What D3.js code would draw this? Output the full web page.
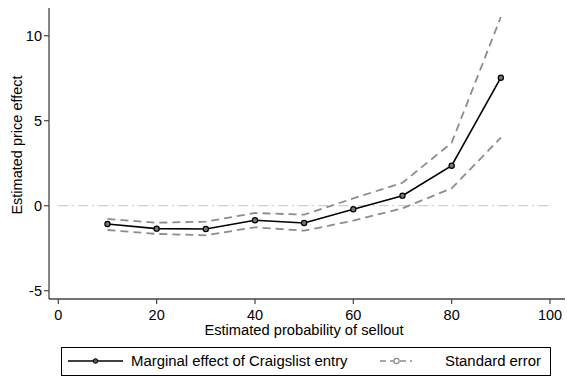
<!DOCTYPE html>
<html>
<head>
<meta charset="UTF-8" />
<style>
    body { margin: 0; background: #fff; }
    text { font-family: "Liberation Sans", Arial, sans-serif; }
</style>
</head>
<body>
<div id="chart"></div>
<script src="https://d3js.org/d3.v7.min.js"></script>
<script>
    // donnees
    const probs = [10, 20, 30, 40, 50, 60, 70, 80, 90];
    const effect = [-1.08, -1.35, -1.37, -0.86, -1.02, -0.21, 0.59, 2.35, 7.53];
    const upper = [-0.78, -1.0, -0.94, -0.43, -0.53, 0.43, 1.35, 3.7, 11.1];
    const lower = [-1.43, -1.66, -1.74, -1.27, -1.47, -0.88, -0.15, 1.02, 4.0];
    const xTicks = [0, 20, 40, 60, 80, 100];
    const yTicks = [-5, 0, 5, 10];

    const width = 567, height = 377;

    let svg = d3.select("#chart").append("svg")
        .attr("width", width)
        .attr("height", height);

    // echelles
    let x = d3.scaleLinear().domain([0, 100]).range([58.3, 550]);
    let y = d3.scaleLinear().domain([-5, 10]).range([290.7, 35.7]);

    const axisColor = "#444";
    let axLeft = 49, axRight = 565, axTop = 8, axBottom = 299;

    // ligne zero
    svg.append("line")
        .attr("x1", x(0)).attr("x2", x(100))
        .attr("y1", y(0)).attr("y2", y(0))
        .attr("stroke", "#d0d0d0")
        .attr("stroke-width", 1.2)
        .attr("stroke-dasharray", "10,4,2,4");

    // axes
    svg.append("line")
        .attr("x1", axLeft).attr("x2", axLeft)
        .attr("y1", axTop).attr("y2", axBottom)
        .attr("stroke", axisColor).attr("stroke-width", 1.3);
    svg.append("line")
        .attr("x1", axLeft).attr("x2", axRight)
        .attr("y1", axBottom).attr("y2", axBottom)
        .attr("stroke", axisColor).attr("stroke-width", 1.3);

    // graduations y
    yTicks.forEach(t => {
        svg.append("line")
            .attr("x1", axLeft - 5).attr("x2", axLeft)
            .attr("y1", y(t)).attr("y2", y(t))
            .attr("stroke", axisColor).attr("stroke-width", 1.2);
        svg.append("text")
            .attr("x", axLeft - 7).attr("y", y(t) + 5)
            .attr("text-anchor", "end")
            .attr("font-size", 14.5)
            .text(t);
    });

    // graduations x
    xTicks.forEach(t => {
        svg.append("line")
            .attr("x1", x(t)).attr("x2", x(t))
            .attr("y1", axBottom).attr("y2", axBottom + 5)
            .attr("stroke", axisColor).attr("stroke-width", 1.2);
        svg.append("text")
            .attr("x", x(t)).attr("y", 320)
            .attr("text-anchor", "middle")
            .attr("font-size", 14.5)
            .text(t);
    });

    // titres
    svg.append("text")
        .attr("x", 304).attr("y", 335)
        .attr("text-anchor", "middle")
        .attr("font-size", 14.7)
        .text("Estimated probability of sellout");
    svg.append("text")
        .attr("transform", "translate(21.5,145) rotate(-90)")
        .attr("text-anchor", "middle")
        .attr("font-size", 14.5)
        .text("Estimated price effect");

    let line = d3.line()
        .x(d => x(d[0]))
        .y(d => y(d[1]));

    // erreurs standard
    [upper, lower].forEach(s => {
        svg.append("path")
            .datum(probs.map((p, i) => [p, s[i]]))
            .attr("d", line)
            .attr("fill", "none")
            .attr("stroke", "#8c8c8c")
            .attr("stroke-width", 1.8)
            .attr("stroke-dasharray", "8,5");
    });

    // effet marginal
    let main = probs.map((p, i) => [p, effect[i]]);
    svg.append("path")
        .datum(main)
        .attr("d", line)
        .attr("fill", "none")
        .attr("stroke", "#000")
        .attr("stroke-width", 1.6);
    svg.selectAll("circle.pt")
        .data(main)
        .enter()
        .append("circle")
        .attr("class", "pt")
        .attr("cx", d => x(d[0]))
        .attr("cy", d => y(d[1]))
        .attr("r", 2.6)
        .attr("fill", "#777")
        .attr("stroke", "#000")
        .attr("stroke-width", 1.2);

    // legende
    let lg = svg.append("g");
    lg.append("rect")
        .attr("x", 61.5).attr("y", 347.5)
        .attr("width", 489).attr("height", 28)
        .attr("fill", "#fff")
        .attr("stroke", "#000").attr("stroke-width", 1);
    lg.append("line")
        .attr("x1", 68).attr("x2", 123).attr("y1", 361).attr("y2", 361)
        .attr("stroke", "#000").attr("stroke-width", 1.6);
    lg.append("circle")
        .attr("cx", 95.5).attr("cy", 361).attr("r", 2.3)
        .attr("fill", "#555").attr("stroke", "#000").attr("stroke-width", 1);
    lg.append("text")
        .attr("x", 131).attr("y", 366)
        .attr("font-size", 14.9)
        .text("Marginal effect of Craigslist entry");
    lg.append("line")
        .attr("x1", 380).attr("x2", 412).attr("y1", 361).attr("y2", 361)
        .attr("stroke", "#8c8c8c").attr("stroke-width", 1.4)
        .attr("stroke-dasharray", "6,4");
    lg.append("circle")
        .attr("cx", 396.5).attr("cy", 361).attr("r", 2.6)
        .attr("fill", "#fff").attr("stroke", "#8c8c8c").attr("stroke-width", 1.2);
    lg.append("text")
        .attr("x", 445).attr("y", 366)
        .attr("font-size", 14.9)
        .text("Standard error");
</script>
</body>
</html>
